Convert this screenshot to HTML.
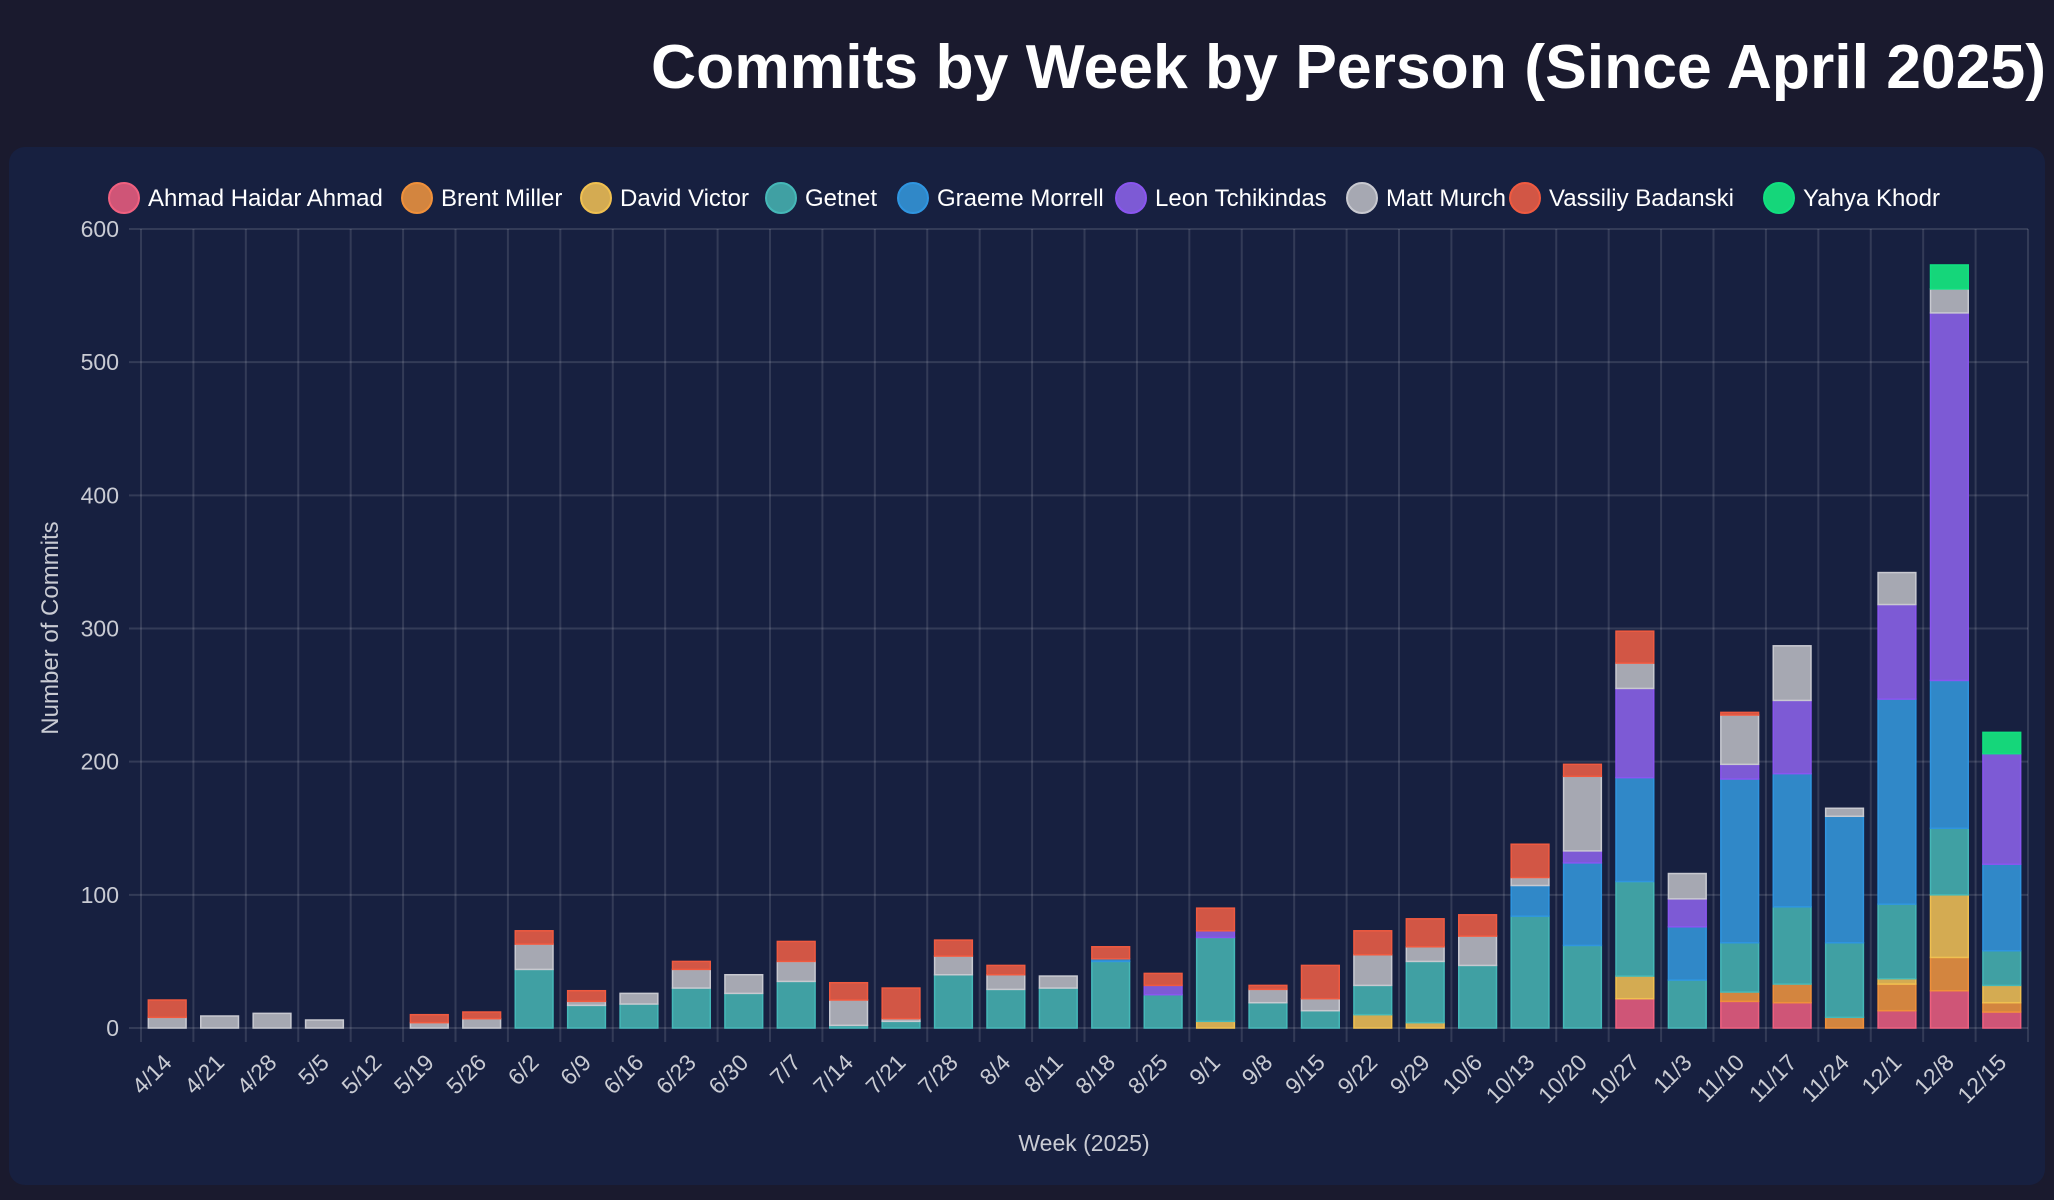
<!DOCTYPE html>
<html><head><meta charset="utf-8"><style>
html,body{margin:0;padding:0;background:#1a1a2e;width:2054px;height:1200px;overflow:hidden}
svg{display:block;font-family:"Liberation Sans",Arial,sans-serif}
</style></head><body>
<svg id="chart" width="2054" height="1200">
<rect x="0" y="0" width="2054" height="1200" fill="#1a1a2e"/>
<text x="651" y="88" fill="#ffffff" font-size="62" font-weight="bold" textLength="1395" lengthAdjust="spacingAndGlyphs">Commits by Week by Person (Since April 2025)</text>
<rect x="9" y="147" width="2036" height="1038" rx="16" fill="#172040"/>
<g id="grid"></g><g id="bars"></g><g id="axes"></g><g id="legend"></g>
</svg>
<script>
const weeks=["4/14","4/21","4/28","5/5","5/12","5/19","5/26","6/2","6/9","6/16","6/23","6/30","7/7","7/14","7/21","7/28","8/4","8/11","8/18","8/25","9/1","9/8","9/15","9/22","9/29","10/6","10/13","10/20","10/27","11/3","11/10","11/17","11/24","12/1","12/8","12/15"];
const seriesNames=["Ahmad Haidar Ahmad","Brent Miller","David Victor","Getnet","Graeme Morrell","Leon Tchikindas","Matt Murch","Vassiliy Badanski","Yahya Khodr"];
const ahmad=[0,0,0,0,0,0,0,0,0,0,0,0,0,0,0,0,0,0,0,0,0,0,0,0,0,0,0,0,22,0,20,19,0,13,28,12];
const brent=[0,0,0,0,0,0,0,0,0,0,0,0,0,0,0,0,0,0,0,0,0,0,0,0,0,0,0,0,0,0,7,14,8,20,25,7];
const david=[0,0,0,0,0,0,0,0,0,0,0,0,0,0,0,0,0,0,0,0,5,0,0,10,4,0,0,0,17,0,0,0,0,4,47,13];
const getnet=[0,0,0,0,0,0,0,44,17,18,30,26,35,2,5,40,29,30,50,25,63,19,13,22,46,47,84,62,71,36,37,58,56,56,50,26];
const graeme=[0,0,0,0,0,0,0,0,0,0,0,0,0,0,0,0,0,0,2,0,0,0,0,0,0,0,23,62,78,40,123,100,95,154,111,65];
const leon=[0,0,0,0,0,0,0,0,0,0,0,0,0,0,0,0,0,0,0,7,5,0,0,0,0,0,0,9,67,21,11,55,0,71,276,83];
const matt=[8,9,11,6,0,4,7,19,3,8,14,14,15,19,2,14,11,9,0,0,0,10,9,23,11,22,6,56,19,19,37,41,6,24,18,0];
const vassiliy=[13,0,0,0,0,6,5,10,8,0,6,0,15,13,23,12,7,0,9,9,17,3,25,18,21,16,25,9,24,0,2,0,0,0,0,0];
const yahya=[0,0,0,0,0,0,0,0,0,0,0,0,0,0,0,0,0,0,0,0,0,0,0,0,0,0,0,0,0,0,0,0,0,0,18,16];
const yTicks=[0,100,200,300,400,500,600];
const fills=["#cf5577","#d3853f","#d4ab52","#40a0a3","#3088c8","#7d5ad5","#a6a8b2","#d25645","#15d67a"];
const strokes=["#f0607f","#f0903a","#f0c050","#45b8b8","#2f95e0","#8a55f0","#c8c9d0","#f05a40","#10e080"];
const allSeries=[ahmad,brent,david,getnet,graeme,leon,matt,vassiliy,yahya];
const NS="http://www.w3.org/2000/svg";
const X0=141,X1=2028,Y0=1028,Y1=229,YMAX=600;
const cw=(X1-X0)/weeks.length;
const xs=i=>X0+cw*(i+0.5);
const ys=v=>Y0-(v/YMAX)*(Y0-Y1);
function mk(tag,attrs,parent){const e=document.createElementNS(NS,tag);for(const k in attrs)e.setAttribute(k,attrs[k]);parent.appendChild(e);return e;}
const grid=document.getElementById('grid'),bars=document.getElementById('bars'),axes=document.getElementById('axes'),legend=document.getElementById('legend');
const gc="rgba(255,255,255,0.12)";
yTicks.forEach(t=>{
  const l=mk('line',{x1:X0-12,x2:X1,y1:ys(t),y2:ys(t),stroke:gc,'stroke-width':2},grid);
  
  
  const tx=mk('text',{x:X0-22,y:ys(t)+8,fill:'#c9cbd3','font-size':23,'text-anchor':'end'},axes);
  tx.textContent=t;
  
  
});
for(let i=0;i<=weeks.length;i++){
  const x=X0+cw*i;
  const l=mk('line',{x1:x,x2:x,y1:Y1,y2:Y0+14,stroke:gc,'stroke-width':2},grid);
  
  
}
weeks.forEach((w,i)=>{
  const cx=xs(i)+6,cy=Y0+36;
  const t=mk('text',{x:cx,y:cy,fill:'#c9cbd3','font-size':23,'text-anchor':'end',transform:`rotate(-45 ${cx} ${cy})`},axes);
  t.textContent=w;
  
  
});
const bw=cw*0.72;
weeks.forEach((w,i)=>{
  let acc=0;
  allSeries.forEach((s,k)=>{
    const v=s[i];if(!v)return;
    const yTop=ys(acc+v),yBot=ys(acc);
    const r=mk('rect',{x:xs(i)-bw/2,y:yTop,width:bw,height:yBot-yTop,fill:fills[k],stroke:strokes[k],'stroke-width':1.5},bars);
    
    
    acc+=v;
  });
});
const yt=mk('text',{x:58,y:628,fill:'#c9cbd3','font-size':24,'text-anchor':'middle',transform:'rotate(-90 58 628)'},axes);
yt.textContent="Number of Commits";


const xt=mk('text',{x:1084,y:1151,fill:'#c9cbd3','font-size':23,'text-anchor':'middle'},axes);
xt.textContent="Week (2025)";


const lx=[124,417,596,781,913,1131,1362,1525,1779];
seriesNames.forEach((n,k)=>{
  const g=mk('g',{},legend);
  
  
  mk('circle',{cx:lx[k],cy:198,r:15,fill:fills[k],stroke:strokes[k],'stroke-width':2},g);
  const t=mk('text',{x:lx[k]+24,y:206,fill:'#ffffff','font-size':24},g);
  t.textContent=n;
});
</script>
</body></html>
